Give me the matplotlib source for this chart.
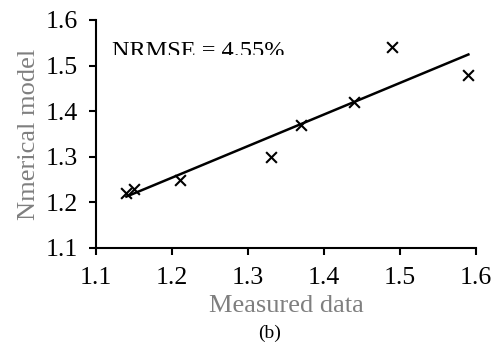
import numpy as np
import matplotlib
matplotlib.use("Agg")
import matplotlib.pyplot as plt
from matplotlib.transforms import Bbox

plt.rcParams['font.family'] = ['Liberation Serif', 'DejaVu Serif']

measured = [1.14, 1.15, 1.21, 1.33, 1.37, 1.44, 1.49, 1.59]
model = [1.22, 1.23, 1.25, 1.30, 1.37, 1.42, 1.54, 1.48]
xticks = [1.1, 1.2, 1.3, 1.4, 1.5, 1.6]
yticks = [1.1, 1.2, 1.3, 1.4, 1.5, 1.6]
annotation = "NRMSE = 4.55%"

W, H = 497, 345
fig = plt.figure(figsize=(W/100, H/100), dpi=100)
ax = fig.add_axes([96/W, 1-248/H, 380/W, 228/H])

ax.scatter(measured, model, marker='x', s=60, color='black', linewidths=1.5, zorder=3)
coef = np.polyfit(measured, model, 1)
xs = np.array([min(measured), max(measured)])
ax.plot(xs, np.polyval(coef, xs), color='black', lw=1.8, zorder=2)

ax.set_xlim(1.1, 1.6)
ax.set_ylim(1.1, 1.6)
ax.set_xticks(xticks)
ax.set_yticks(yticks)
ax.set_xticklabels([f"{t:.1f}" for t in xticks])
ax.set_yticklabels([f"{t:.1f}" for t in yticks])
for s in ['top', 'right']:
    ax.spines[s].set_visible(False)
for s in ['left', 'bottom']:
    ax.spines[s].set_linewidth(1.5)
ax.tick_params(direction='out', length=5, width=1.5, labelsize=18.5)
ax.tick_params(axis='x', pad=9)
ax.tick_params(axis='y', pad=8)

ax.set_xlabel("Measured data", fontsize=19, color='#7f7f7f', labelpad=4)
ax.set_ylabel("Nmerical model", fontsize=19, color='#7f7f7f', labelpad=4)
t = fig.text(112/W, 1-57/H, annotation, fontsize=17.5, ha='left', va='baseline')
t.set_clip_box(Bbox([[0, H-55], [W, H]]))
t.set_clip_on(True)
fig.text(270/W, 1-333/H, "(b)", fontsize=14, ha='center', va='center')

fig.savefig("out.png", dpi=100)
